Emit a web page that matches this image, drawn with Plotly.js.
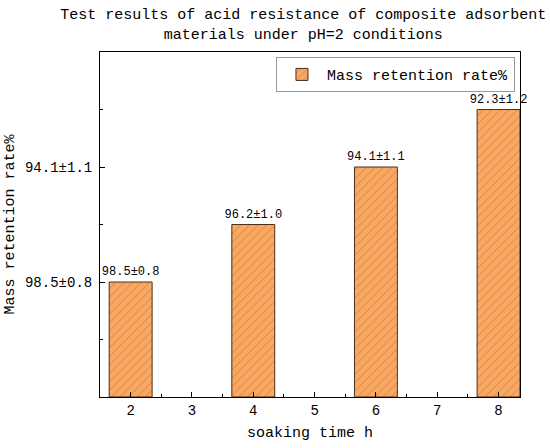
<!DOCTYPE html>
<html>
<head>
<meta charset="utf-8">
<script src="https://cdn.plot.ly/plotly-3.0.1.min.js"></script>
<style>html,body{margin:0;padding:0;background:#fff;}#chart{width:550px;height:448px;}</style>
</head>
<body>
<div id="chart"></div>
<script>
// Data
const soakingTime = [2, 4, 6, 8];
const barHeights = [1, 1.5, 2, 2.5];
const barLabels = ['98.5±0.8', '96.2±1.0', '94.1±1.1', '92.3±1.2'];
const yTickVals = [1, 2];
const yTickText = ['98.5±0.8', '94.1±1.1'];
const xTickVals = [2, 3, 4, 5, 6, 7, 8];
const seriesName = 'Mass retention rate%';

const FONT = 'Liberation Mono, DejaVu Sans Mono, monospace';

const trace = {
  type: 'bar',
  x: soakingTime,
  y: barHeights,
  name: seriesName,
  width: 0.7,
  text: barLabels,
  textposition: 'outside',
  constraintext: 'none',
  cliponaxis: false,
  textfont: {family: FONT, size: 12, color: '#000'},
  marker: {
    color: '#F8A862',
    line: {color: '#4a2f1a', width: 1},
    pattern: {shape: '/', bgcolor: '#F8A862', fgcolor: '#A85A1C', size: 6, solidity: 0.15, fillmode: 'overlay'}
  },
  showlegend: true
};

const layout = {
  width: 550, height: 448,
  margin: {l: 100, r: 30, t: 52, b: 51},
  paper_bgcolor: '#fff', plot_bgcolor: '#fff',
  font: {family: FONT, size: 15, color: '#000'},
  title: {
    text: 'Test results of acid resistance of composite adsorbent<br>materials under pH=2 conditions',
    font: {family: FONT, size: 15, color: '#000'},
    x: 0.484, xref: 'paper', xanchor: 'center',
    y: 0.957, yref: 'container', yanchor: 'top'
  },
  bargap: 0,
  showlegend: true,
  legend: {
    x: 0.988, xanchor: 'right', xref: 'paper',
    y: 0.985, yanchor: 'top', yref: 'paper',
    bgcolor: '#fff', bordercolor: '#999', borderwidth: 1,
    font: {family: FONT, size: 15, color: '#000'},
    itemwidth: 40
  },
  xaxis: {
    range: [1.5, 8.35],
    tickmode: 'array', tickvals: xTickVals,
    ticks: 'inside', ticklen: 5, tickcolor: '#000', tickwidth: 1,
    minor: {ticks: 'inside', ticklen: 3, tickcolor: '#000', dtick: 0.5, tick0: 0.5, showgrid: false},
    showline: true, linecolor: '#000', linewidth: 1, mirror: true,
    showgrid: false, zeroline: false,
    tickfont: {family: FONT, size: 14, color: '#000'},
    title: {text: 'soaking time h', font: {family: FONT, size: 15, color: '#000'}, standoff: 8}
  },
  yaxis: {
    range: [0, 3],
    tickmode: 'array', tickvals: yTickVals, ticktext: yTickText,
    ticks: 'inside', ticklen: 5, tickcolor: '#000', tickwidth: 1,
    minor: {ticks: 'inside', ticklen: 3, tickcolor: '#000', tickvals: [0.5, 1.5, 2.5], showgrid: false},
    showline: true, linecolor: '#000', linewidth: 1, mirror: true,
    showgrid: false, zeroline: false,
    tickfont: {family: FONT, size: 14, color: '#000'},
    ticklabelstandoff: 4,
    title: {text: 'Mass retention rate%', font: {family: FONT, size: 15, color: '#000'}, standoff: 6}
  }
};

Plotly.newPlot('chart', [trace], layout, {displayModeBar: false, staticPlot: true});
</script>
</body>
</html>
